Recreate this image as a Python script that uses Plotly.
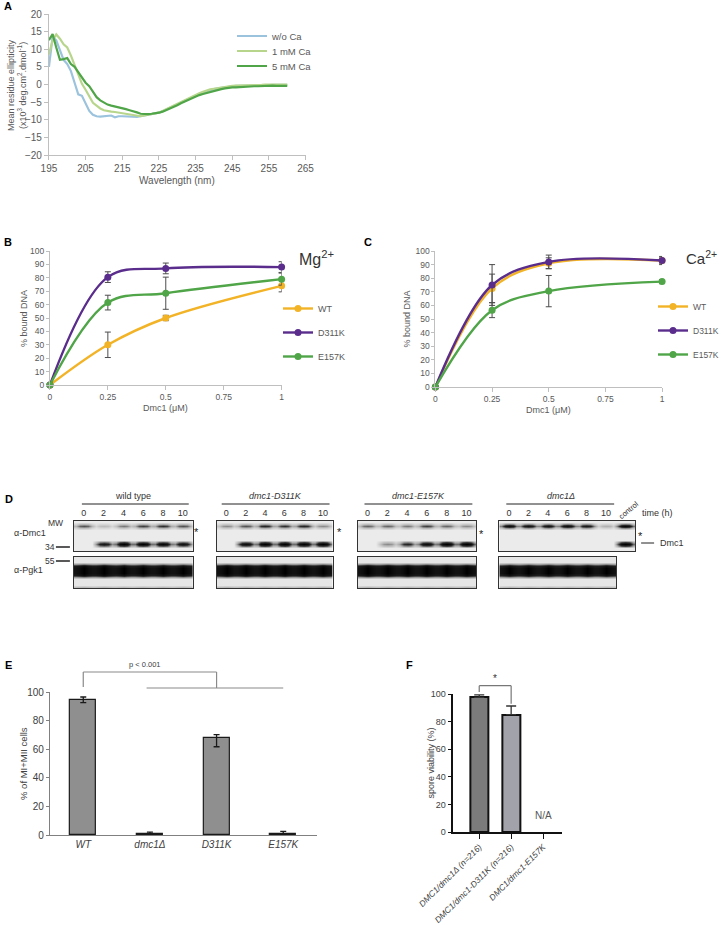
import numpy as np
import plotly.graph_objects as go

FONT = "Liberation Sans, Arial, sans-serif"
W, H = 724, 925

# ---------------- Panel A: CD spectra ----------------
wavelength_nm = list(range(195, 261))
ellip_no_ca = [5.0, 13.5, 12.5, 9.5, 7.0, 5.8, 3.8, 0.5, -2.8, -3.2,
               -5.5, -7.5, -8.6, -9.0, -9.1, -9.0, -8.8, -8.8, -9.3, -9.0,
               -9.0, -9.1, -9.1, -9.2, -9.2, -9.0, -8.8, -8.6, -8.5, -8.3,
               -8.0, -7.6, -7.1, -6.6, -6.1, -5.5, -5.0, -4.5, -4.0, -3.5,
               -3.1, -2.7, -2.3, -1.9, -1.6, -1.3, -1.1, -0.9, -0.7, -0.6,
               -0.5, -0.4, -0.4, -0.3, -0.3, -0.3, -0.2, -0.3, -0.2, -0.2,
               -0.2, -0.1, -0.2, -0.1, -0.1, -0.1]
ellip_1mM_ca = [8.5, 12.5, 14.2, 13.0, 11.4, 10.5, 8.2, 5.5, 2.5, 0.2,
                -1.5, -3.5, -5.2, -6.0, -6.8, -7.3, -7.6, -7.7, -7.8, -8.0,
                -8.1, -8.3, -8.4, -8.6, -8.8, -9.0, -8.8, -8.6, -8.4, -8.2,
                -8.0, -7.5, -7.0, -6.4, -5.9, -5.3, -4.8, -4.3, -3.8, -3.3,
                -2.9, -2.5, -2.1, -1.7, -1.4, -1.2, -1.0, -0.8, -0.6, -0.5,
                -0.4, -0.3, -0.3, -0.2, -0.1, -0.2, -0.1, -0.1, -0.1, 0.0,
                -0.1, 0.0, 0.0, 0.0, 0.0, 0.0]
ellip_5mM_ca = [12.6, 14.3, 10.5, 7.0, 7.2, 7.5, 5.8, 5.0, 3.5, 1.8,
                0.5, -0.5, -2.0, -3.6, -4.5, -5.2, -5.7, -6.0, -6.2, -6.5,
                -6.8, -7.0, -7.3, -7.5, -7.9, -8.3, -8.4, -8.4, -8.3, -8.2,
                -8.0, -7.7, -7.3, -6.9, -6.4, -5.9, -5.3, -4.8, -4.3, -3.8,
                -3.4, -3.0, -2.7, -2.4, -2.0, -1.7, -1.6, -1.3, -1.1, -0.9,
                -0.8, -0.8, -0.7, -0.6, -0.6, -0.6, -0.5, -0.5, -0.4, -0.4,
                -0.4, -0.3, -0.4, -0.5, -0.4, -0.4]

# ---------------- Panels B/C: DNA binding ----------------
dmc1_conc = [0, 0.25, 0.5, 1]
mg_wt = [0, 30, 50, 74]
mg_wt_err = [0, 9.5, 2, 4.5]
mg_d311k = [0, 80.5, 87, 88]
mg_d311k_err = [0, 4, 4, 4]
mg_e157k = [0, 61.5, 68.5, 79]
mg_e157k_err = [0, 5.5, 12, 4.5]
ca_wt = [0, 72.5, 91, 93]
ca_wt_err = [0, 10.5, 4, 2]
ca_d311k = [0, 75, 92, 93]
ca_d311k_err = [0, 15, 5, 3]
ca_e157k = [0, 56.5, 70.5, 77.5]
ca_e157k_err = [0, 5.5, 11.5, 1.5]

# ---------------- Panel D: western blot band intensities ----------------
time_h = ["0", "2", "4", "6", "8", "10"]
blot_names = ["wild type", "<i>dmc1-D311K</i>", "<i>dmc1-E157K</i>", "<i>dmc1Δ</i>"]
wt_star = [0.5, 0.2, 0.4, 0.55, 0.6, 0.5]
wt_dmc1 = [0.0, 0.75, 1.0, 0.95, 0.9, 0.8]
wt_pgk1 = [1.0, 1.0, 0.95, 0.95, 0.95, 0.95]
d311k_star = [0.35, 0.5, 0.65, 0.6, 0.65, 0.35]
d311k_dmc1 = [0.0, 0.85, 1.0, 1.0, 1.0, 1.0]
d311k_pgk1 = [1.0, 1.0, 1.0, 1.0, 1.0, 1.0]
e157k_star = [0.45, 0.45, 0.4, 0.55, 0.45, 0.35]
e157k_dmc1 = [0.0, 0.35, 0.65, 0.85, 1.0, 1.0]
e157k_pgk1 = [1.0, 1.0, 1.0, 1.0, 1.0, 1.0]
null_star = [0.85, 0.8, 0.8, 0.85, 0.75, 0.25, 0.9]   # last lane = control
null_dmc1 = [0.0, 0.0, 0.0, 0.0, 0.0, 0.0, 1.0]
null_pgk1 = [0.95, 0.95, 0.95, 0.95, 0.95, 0.95]

# ---------------- Panel E ----------------
e_strains = ["WT", "dmc1Δ", "D311K", "E157K"]
e_mi_mii = [94.5, 0.5, 68, 0.5]
e_err_plus = [2, 1.5, 2.2, 2]
e_err_minus = [2, 0.5, 6.3, 0.5]

# ---------------- Panel F ----------------
f_genotypes = ["DMC1/dmc1Δ (n=216)", "DMC1/dmc1-D311K (n=216)", "DMC1/dmc1-E157K"]
f_viability = [97.5, 85, None]
f_err = [1.8, 6.3, 0]


def xd(x0, x1):
    return [x0 / W, x1 / W]


def yd(ytop, ybot):
    return [1 - ybot / H, 1 - ytop / H]


def ann(text, x, y, size=9, color="#404040", xa="center", ya="middle", angle=0, bold=False):
    if bold:
        text = "<b>" + text + "</b>"
    return dict(text=text, x=x / W, y=1 - y / H, xref="paper", yref="paper",
                showarrow=False, xanchor=xa, yanchor=ya, textangle=angle,
                font=dict(size=size, color=color, family=FONT))


def pline(x0, y0, x1, y1, color="#808080", width=1):
    return dict(type="line", xref="paper", yref="paper", x0=x0 / W, y0=1 - y0 / H,
                x1=x1 / W, y1=1 - y1 / H, line=dict(color=color, width=width))


fig = go.Figure()
layout = {}
annotations = []
shapes = []

GRAY_AX = "#bfbfbf"
TICK_C = "#595959"

# ---- A ----
A_X, A_Y = (49, 306), (14, 155)
a_series = [("w/o Ca", ellip_no_ca, "#9cc3dd", "legend", 36),
            ("1 mM Ca", ellip_1mM_ca, "#b7d68c", "legend4", 51),
            ("5 mM Ca", ellip_5mM_ca, "#4fa548", "legend5", 66)]
for name, vals, col, leg, ly in a_series:
    fig.add_trace(go.Scatter(x=wavelength_nm, y=vals, mode="lines", name=name,
                             line=dict(color=col, width=2.2), xaxis="x", yaxis="y",
                             legend=leg))
    layout[leg] = dict(x=232 / W, y=1 - ly / H, xanchor="left", yanchor="middle",
                       font=dict(size=9.5, color=TICK_C, family=FONT),
                       bgcolor="rgba(0,0,0,0)")
layout["xaxis"] = dict(domain=xd(*A_X), range=[195, 265], dtick=10, tick0=195,
                       showline=True, linecolor=GRAY_AX, ticks="outside", ticklen=4,
                       tickcolor=GRAY_AX, showgrid=False, zeroline=False, automargin=False,
                       tickfont=dict(size=10, color=TICK_C), anchor="y")
layout["yaxis"] = dict(domain=yd(*A_Y), range=[-20, 20], dtick=5,
                       showline=True, linecolor=GRAY_AX, ticks="outside", ticklen=4,
                       tickcolor=GRAY_AX, showgrid=False, zeroline=False, automargin=False,
                       tickfont=dict(size=10, color=TICK_C), anchor="x")
annotations.append(ann("Wavelength (nm)", 177, 180, size=10, color=TICK_C))
annotations.append(ann("Mean residue ellipticity<br>(x10<sup>3</sup> deg.cm<sup>2</sup>.dmol<sup>-1</sup>)",
                       17, 85, size=9, color=TICK_C, angle=-90))

# ---- B / C ----
series_cols = {"WT": "#f2b327", "D311K": "#5a2d8c", "E157K": "#4fa548"}


def binding_panel(ax, vals, leg, xdom, ydom):
    xa = "x" + ax
    ya = "y" + ax
    for name, (v, e) in vals.items():
        fig.add_trace(go.Scatter(
            x=dmc1_conc, y=v, mode="lines+markers", name=name,
            line=dict(color=series_cols[name], width=2.4, shape="spline", smoothing=1.0),
            marker=dict(color=series_cols[name], size=7),
            error_y=dict(type="data", array=e, color="#4d4d4d", thickness=1, width=3),
            xaxis=xa, yaxis=ya, legend=leg, legendgroup=leg + name, cliponaxis=False))
    layout["xaxis" + ax] = dict(domain=xd(*xdom), range=[0, 1],
                                tickvals=[0, 0.25, 0.5, 0.75, 1],
                                ticktext=["0", "0.25", "0.5", "0.75", "1"],
                                showline=True, linecolor=GRAY_AX, ticks="outside",
                                ticklen=4, tickcolor=GRAY_AX, showgrid=False,
                                zeroline=False, automargin=False,
                                tickfont=dict(size=8.5, color=TICK_C), anchor=ya)
    layout["yaxis" + ax] = dict(domain=yd(*ydom), range=[0, 100], dtick=10,
                                showline=True, linecolor=GRAY_AX, ticks="outside",
                                ticklen=3, tickcolor=GRAY_AX, showgrid=False,
                                zeroline=False, automargin=False,
                                tickfont=dict(size=8.5, color=TICK_C), anchor=xa)


binding_panel("2", {"WT": (mg_wt, mg_wt_err), "D311K": (mg_d311k, mg_d311k_err),
                    "E157K": (mg_e157k, mg_e157k_err)}, "legend2", (50, 282), (251, 385))
binding_panel("3", {"WT": (ca_wt, ca_wt_err), "D311K": (ca_d311k, ca_d311k_err),
                    "E157K": (ca_e157k, ca_e157k_err)}, "legend3", (436, 663), (251, 387))
layout["legend2"] = dict(x=278 / W, y=1 - 294 / H, xanchor="left", yanchor="top",
                         font=dict(size=9, color=TICK_C, family=FONT),
                         bgcolor="rgba(0,0,0,0)", tracegroupgap=5)
layout["legend3"] = dict(x=654 / W, y=1 - 292 / H, xanchor="left", yanchor="top",
                         font=dict(size=8.5, color=TICK_C, family=FONT),
                         bgcolor="rgba(0,0,0,0)", tracegroupgap=5)
annotations.append(ann("Mg<sup>2+</sup>", 297, 258, size=16, color="#333333", xa="left"))
annotations.append(ann("Ca<sup>2+</sup>", 685, 257, size=15, color="#333333", xa="left"))
annotations.append(ann("Dmc1 (μM)", 166, 408, size=9, color=TICK_C))
annotations.append(ann("Dmc1 (μM)", 549, 410, size=9, color=TICK_C))
annotations.append(ann("% bound DNA", 24, 318, size=9, color=TICK_C, angle=-90))
annotations.append(ann("% bound DNA", 408, 319, size=9, color=TICK_C, angle=-90))

# ---- D: blots ----
BLOT_CS = [[0, "#f7f7f7"], [0.3, "#b0b0b0"], [0.65, "#2a2a2a"], [1, "#000000"]]
LANE_PROFILE = [0.45, 0.9, 1.0, 0.9, 0.45]   # horizontal shape of a band within a lane
LANE_OFFSETS = [-0.4, -0.2, 0.0, 0.2, 0.4]


def expand_lanes(z_lanes, bg):
    rows, n = z_lanes.shape
    out = np.zeros((rows, n * len(LANE_PROFILE)))
    xs = []
    for i in range(n):
        for k, (w, off) in enumerate(zip(LANE_PROFILE, LANE_OFFSETS)):
            out[:, i * len(LANE_PROFILE) + k] = bg + (z_lanes[:, i] - bg) * w
            xs.append(i + off)
    return np.clip(out, 0, 1), xs


def top_z(star, dmc):
    rows = 15
    bg = 0.05
    z = np.full((rows, len(star)), bg)
    for r, w in {1: 0.45, 2: 1.0, 3: 0.4}.items():
        z[r] += w * np.array(star)
    for r, w in {10: 0.55, 11: 1.0, 12: 0.55}.items():
        z[r] += w * np.array(dmc)
    return expand_lanes(np.clip(z, 0, 1), bg)


def bottom_z(pgk):
    rows = 15
    bg = 0.07
    z = np.full((rows, len(pgk)), bg)
    for r, w in {3: 0.35, 4: 0.85, 5: 1.0, 6: 1.0, 7: 1.0, 8: 0.85, 9: 0.35, 14: 0.2}.items():
        z[r] += w * np.array(pgk)
    z = np.clip(z, 0, 1)
    out, xs = expand_lanes(z, bg)
    # Pgk1 band is saturated and merges across lanes
    out = np.maximum(out, np.repeat(z, len(LANE_PROFILE), axis=1) * 0.85)
    return out, xs


BOX_TOP, BOX_BOT = (521, 551), (557, 588)
blots = [
    (wt_star, wt_dmc1, wt_pgk1, (74, 193), (74, 193)),
    (d311k_star, d311k_dmc1, d311k_pgk1, (217, 333), (217, 333)),
    (e157k_star, e157k_dmc1, e157k_pgk1, (358, 477), (358, 477)),
    (null_star, null_dmc1, null_pgk1, (500, 636), (500, 617)),
]
ax_id = 6
for bi, (star, dmc, pgk, tdom, bdom) in enumerate(blots):
    for part in ("top", "bot"):
        a = str(ax_id)
        if part == "top":
            z, xs = top_z(star, dmc)
            n = len(star)
            dom = tdom
            ydom = BOX_TOP
        else:
            z, xs = bottom_z(pgk)
            n = len(pgk)
            dom = bdom
            ydom = BOX_BOT
        fig.add_trace(go.Heatmap(z=z, x=xs, y=list(range(z.shape[0])),
                                 colorscale=BLOT_CS, zmin=0, zmax=1, showscale=False,
                                 zsmooth="best", hoverinfo="skip",
                                 xaxis="x" + a, yaxis="y" + a))
        xax = dict(domain=xd(*dom), range=[-0.5, n - 0.5], showline=True, mirror=True,
                   linecolor="#333333", linewidth=1.2, showgrid=False, zeroline=False,
                   ticks="", anchor="y" + a, automargin=False)
        if part == "top":
            xax.update(side="top", tickvals=list(range(6)), ticktext=time_h,
                       tickfont=dict(size=9, color="#333333"), showticklabels=True)
        else:
            xax.update(showticklabels=False)
        layout["xaxis" + a] = xax
        layout["yaxis" + a] = dict(domain=yd(*ydom), range=[z.shape[0] - 0.5, -0.5],
                                   showline=True, mirror=True, linecolor="#333333",
                                   linewidth=1.2, showgrid=False, zeroline=False,
                                   showticklabels=False, ticks="", anchor="x" + a,
                                   automargin=False)
        ax_id += 1

label_x = [(133, 82, 189), (276, 222, 330), (419, 365, 473), (562, 507, 615)]
for name, (cx, l0, l1) in zip(blot_names, label_x):
    annotations.append(ann(name, cx, 496, size=9, color="#333333"))
    shapes.append(pline(l0, 504, l1, 504, color="#222222", width=1))
for sx, sy in [(197, 530), (340, 530), (482, 532), (641, 534)]:
    annotations.append(ann("*", sx, sy + 2, size=11, color="#222222"))
annotations.append(ann("control", 629, 510, size=7.5, color="#333333", angle=-40))
annotations.append(ann("time (h)", 641, 513, size=9, color="#333333", xa="left"))
shapes.append(pline(642, 543, 655, 543, color="#222222", width=1))
annotations.append(ann("Dmc1", 659, 543, size=9, color="#333333", xa="left"))
annotations.append(ann("MW", 56, 523, size=8.5, color="#333333"))
annotations.append(ann("34", 50, 547, size=8.5, color="#333333"))
annotations.append(ann("55", 50, 561, size=8.5, color="#333333"))
shapes.append(pline(56, 547, 70, 547, color="#222222", width=1.5))
shapes.append(pline(56, 561, 70, 561, color="#222222", width=1.5))
annotations.append(ann("α-Dmc1", 12, 533, size=9, color="#333333", xa="left"))
annotations.append(ann("α-Pgk1", 12, 570, size=9, color="#333333", xa="left"))

# ---- E ----
E_X, E_Y = (50, 317), (692, 835)
E_RANGE_X, E_RANGE_Y = (-0.5, 3.5), (0, 100)
fig.add_trace(go.Bar(x=e_strains, y=e_mi_mii, width=0.39,
                     marker=dict(color="#8f8f8f", line=dict(color="#1a1a1a", width=1.2)),
                     error_y=dict(type="data", array=e_err_plus, arrayminus=e_err_minus,
                                  symmetric=False, color="#1a1a1a", thickness=1.3, width=3),
                     xaxis="x4", yaxis="y4", showlegend=False))
layout["xaxis4"] = dict(domain=xd(*E_X), range=list(E_RANGE_X), showline=True,
                        linecolor="#808080", ticks="", showgrid=False, zeroline=False,
                        tickvals=e_strains, ticktext=["<i>" + s + "</i>" for s in e_strains],
                        tickfont=dict(size=10, color="#404040"), anchor="y4",
                        automargin=False)
layout["yaxis4"] = dict(domain=yd(*E_Y), range=list(E_RANGE_Y), dtick=20, showline=True,
                        linecolor="#808080", ticks="outside", ticklen=3, tickcolor="#808080",
                        showgrid=False, zeroline=False, automargin=False,
                        tickfont=dict(size=10, color="#404040"), anchor="x4")
annotations.append(ann("% of MI+MII cells", 23, 763, size=9.5, color="#404040", angle=-90))


def e_pt(cat, val):
    px = E_X[0] + (cat - E_RANGE_X[0]) / (E_RANGE_X[1] - E_RANGE_X[0]) * (E_X[1] - E_X[0])
    py = E_Y[1] - (val - E_RANGE_Y[0]) / (E_RANGE_Y[1] - E_RANGE_Y[0]) * (E_Y[1] - E_Y[0])
    return px, py


bk = "#8a8a8a"
for (c0, v0), (c1, v1) in [((0, 103.5), (0, 114)), ((0, 114), (2, 114)),
                           ((2, 114), (2, 102.8)), ((0.95, 102.8), (3, 102.8))]:
    p0, p1 = e_pt(c0, v0), e_pt(c1, v1)
    shapes.append(pline(p0[0], p0[1], p1[0], p1[1], color=bk, width=1.2))
pp = e_pt(0.93, 119)
annotations.append(ann("p < 0.001", pp[0], pp[1], size=7.5, color="#404040"))

# ---- F ----
F_X, F_Y = (454, 563), (694, 832)
F_RANGE_X, F_RANGE_Y = (-0.81, 2.6), (0, 100)
fig.add_trace(go.Bar(x=f_genotypes, y=f_viability, width=0.56,
                     marker=dict(color=["#7b7b7b", "#a2a2aa", "#a2a2aa"],
                                 line=dict(color="#111111", width=2)),
                     error_y=dict(type="data", array=f_err, arrayminus=[0, 0, 0],
                                  symmetric=False, color="#333333", thickness=1.3, width=5),
                     xaxis="x5", yaxis="y5", showlegend=False))
layout["xaxis5"] = dict(domain=xd(*F_X), range=list(F_RANGE_X), showline=True,
                        linecolor="#111111", linewidth=1.5, ticks="outside", ticklen=5,
                        tickcolor="#111111", tickwidth=1.3, showgrid=False, zeroline=False,
                        tickvals=f_genotypes, ticktext=["<i>" + g + "</i>" for g in f_genotypes],
                        tickangle=-45, tickfont=dict(size=8.5, color="#404040"), anchor="y5",
                        automargin=False)
layout["yaxis5"] = dict(domain=yd(*F_Y), range=list(F_RANGE_Y), dtick=20, showline=True,
                        linecolor="#111111", linewidth=1.5, ticks="outside", ticklen=4,
                        tickcolor="#111111", tickwidth=1.3, showgrid=False, zeroline=False,
                        automargin=False,
                        tickfont=dict(size=9, color="#404040"), anchor="x5")
annotations.append(ann("spore viability (%)", 432, 763, size=9, color="#404040", angle=-90))


def f_pt(cat, val):
    px = F_X[0] + (cat - F_RANGE_X[0]) / (F_RANGE_X[1] - F_RANGE_X[0]) * (F_X[1] - F_X[0])
    py = F_Y[1] - (val - F_RANGE_Y[0]) / (F_RANGE_Y[1] - F_RANGE_Y[0]) * (F_Y[1] - F_Y[0])
    return px, py


for (c0, v0), (c1, v1) in [((0, 101.5), (0, 106)), ((0, 106), (1, 106)),
                           ((1, 106), (1, 93))]:
    p0, p1 = f_pt(c0, v0), f_pt(c1, v1)
    shapes.append(pline(p0[0], p0[1], p1[0], p1[1], color="#777777", width=1.2))
sp = f_pt(0.5, 111)
annotations.append(ann("*", sp[0], sp[1], size=10, color="#333333"))
npos = f_pt(2, 12)
annotations.append(ann("N/A", npos[0], npos[1], size=10, color="#555555"))

# ---- panel letters ----
for letter, x, y in [("A", 2, 6), ("B", 2, 242), ("C", 362, 242), ("D", 3, 499),
                     ("E", 3, 665), ("F", 405, 665)]:
    annotations.append(ann(letter, x, y, size=11, color="#000000", xa="left", bold=True))

layout.update(template="none", width=W, height=H, margin=dict(l=0, r=0, t=0, b=0, pad=0),
              paper_bgcolor="white", plot_bgcolor="rgba(0,0,0,0)",
              font=dict(family=FONT, color="#404040"), annotations=annotations, shapes=shapes,
              showlegend=True, bargap=0)
fig.update_layout(**layout)
fig.write_html("out.html", config={"displayModeBar": False},
               post_script="document.body.style.margin='0';document.body.style.overflow='hidden';")
